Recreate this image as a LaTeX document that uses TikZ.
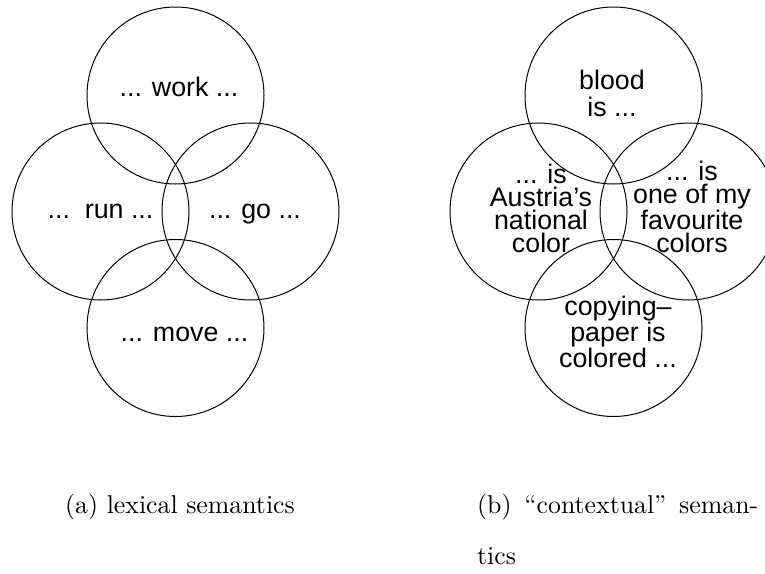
\documentclass[tikz,border=0pt]{standalone}
\usepackage{fontspec}
\newfontfamily\vennfont{Liberation Sans}
\font\capfont="[lmroman10-regular]:mapping=tex-text" at 25.8pt

\tikzset{
  set/.style={draw, line width=1pt, circle, minimum size=177pt, inner sep=0pt},
  % multi-line words: the base anchor sits on the last line's baseline
  word/.style={anchor=base, align=center, inner sep=0pt,
    font=\vennfont\fontsize{26.8}{#1}\selectfont},
  word/.default={22.7},
  sublabel/.style={anchor=base west, inner sep=0pt, font=\capfont}
}

\begin{document}
\begin{tikzpicture}[x=1pt, y=-1pt]
  \useasboundingbox (0,0) rectangle (765,573);

  % (a) word senses of a verb
  \node[set] (work) at (175.5,95.5)  {};
  \node[set] (run)  at (100.5,211.5) {};
  \node[set] (go)   at (250.5,211.5) {};
  \node[set] (move) at (175.5,328)   {};
  \node[word] (workt) at (179,96)    {... work ...};
  \node[word] (runt)  at (100.5,218) {...\ \ run ...};
  \node[word] (got)   at (255,218)   {... go ...};
  \node[word] (movet) at (184.5,341.5) {... move ...};

  % (b) contexts of a colour word
  \node[set] (blood)   at (613.5,95.5)  {};
  \node[set] (austria) at (538.5,211.5) {};
  \node[set] (fav)     at (688.5,211.5) {};
  \node[set] (paper)   at (613.5,328)   {};
  \node[word=26.7] (bloodt) at (612,116) {blood\\is ...};
  \node[word] (austriat) at (541,252) {... is\\Austria’s\\national\\color};
  \node[word] (favt)     at (692,252) {... is\\one of my\\favourite\\colors};
  \node[word=26] (papert) at (618,367) {copying–\\paper is\\colored ...};

  % sub-captions
  \node[sublabel] (capa) at (65,513) {(a) lexical semantics};
  \node[sublabel] (capb) at (477,513) {\makebox[281pt][s]{(b) “contextual” seman-}};
  \node[sublabel] (capc) at (477,564.5) {tics};
\end{tikzpicture}
\end{document}
